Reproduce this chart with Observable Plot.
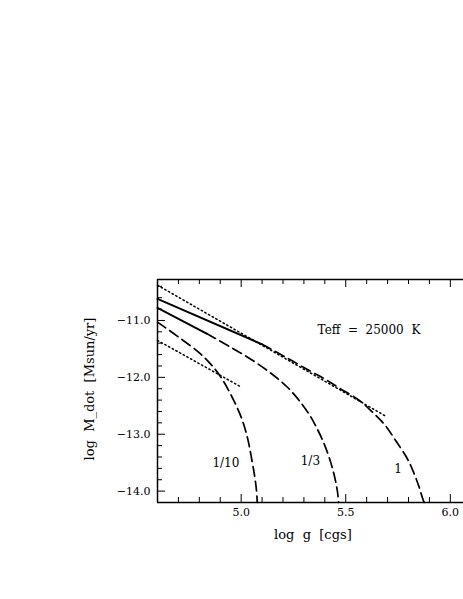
<!DOCTYPE html>
<html><head><meta charset="utf-8">
<script src="https://cdn.jsdelivr.net/npm/d3@7"></script>
<script src="https://cdn.jsdelivr.net/npm/@observablehq/plot@0.6"></script>
<style>body{margin:0;background:#fff;}</style>
</head><body><div id="chart"></div>
<script>
// log g (x) and log M_dot (y) values
const z1SolidG = [4.60, 5.10];
const z1SolidM = [-10.62, -11.42];
const z1DashG = [5.10, 5.22, 5.33, 5.40, 5.47, 5.57, 5.63, 5.69, 5.74, 5.79, 5.82, 5.85, 5.867, 5.875];
const z1DashM = [-11.42, -11.66, -11.89, -12.03, -12.19, -12.42, -12.62, -12.85, -13.12, -13.40, -13.63, -13.92, -14.12, -14.20];

const z3SolidG = [4.60, 4.835];
const z3SolidM = [-10.78, -11.23];
const z3DashG = [4.835, 4.95, 5.05, 5.15, 5.22, 5.28, 5.33, 5.36, 5.39, 5.42, 5.445, 5.46, 5.466];
const z3DashM = [-11.23, -11.47, -11.69, -11.95, -12.17, -12.42, -12.68, -12.88, -13.11, -13.40, -13.72, -14.00, -14.20];

const z10DashG = [4.60, 4.70, 4.80, 4.85, 4.90, 4.95, 5.00, 5.03, 5.05, 5.065, 5.073, 5.077];
const z10DashM = [-11.03, -11.29, -11.57, -11.75, -11.98, -12.30, -12.70, -13.06, -13.43, -13.75, -13.98, -14.20];

const dotUpperG = [4.60, 5.69];
const dotUpperM = [-10.38, -12.68];
const dotLowerG = [4.60, 5.00];
const dotLowerM = [-11.35, -12.17];

const curveLabels = ["1/10", "1/3", "1"];
const curveLabelG = [4.927, 5.331, 5.75];
const curveLabelM = [-13.51, -13.47, -13.61];

const xMajor = [5.0, 5.5, 6.0];
const xMinor = [4.7, 4.8, 4.9, 5.1, 5.2, 5.3, 5.4, 5.6, 5.7, 5.8, 5.9];
const yMajor = [-11, -12, -13, -14];
const yMinor = [-10.4, -10.6, -10.8, -11.2, -11.4, -11.6, -11.8, -12.2, -12.4, -12.6, -12.8, -13.2, -13.4, -13.6, -13.8];

const xDomain = [4.6, 6.063];
const yDomain = [-14.2, -10.28];
const W = 463, H = 599;
const mL = 157, mR = 0, mT = 279, mB = 97;

const pts = (g, m) => g.map((v, i) => ({g: v, m: m[i]}));
const font = "DejaVu Serif";

// pixel-per-unit to express tick lengths
const pxX = (W - mL - mR) / (xDomain[1] - xDomain[0]);
const pxY = (H - mT - mB) / (yDomain[1] - yDomain[0]);
const tx = (len) => len / pxX;
const ty = (len) => len / pxY;

const fmt = d3.format(".1f");

const plot = Plot.plot({
  width: W, height: H,
  marginLeft: mL, marginRight: mR, marginTop: mT, marginBottom: mB,
  style: {fontFamily: font, background: "#fff"},
  x: {domain: xDomain, axis: null},
  y: {domain: yDomain, axis: null},
  marks: [
    // frame: left, top, bottom
    Plot.ruleX([xDomain[0]], {stroke: "#000", strokeWidth: 1.5}),
    Plot.ruleY([yDomain[0], yDomain[1]], {stroke: "#000", strokeWidth: 1.5}),
    // bottom ticks
    Plot.ruleX(xMajor, {x: d => d, y1: yDomain[0], y2: yDomain[0] + ty(8), stroke: "#000", strokeWidth: 1}),
    Plot.ruleX(xMinor, {x: d => d, y1: yDomain[0], y2: yDomain[0] + ty(5), stroke: "#000", strokeWidth: 1}),
    // top ticks
    Plot.ruleX(xMajor, {x: d => d, y1: yDomain[1], y2: yDomain[1] - ty(8), stroke: "#000", strokeWidth: 1}),
    Plot.ruleX(xMinor, {x: d => d, y1: yDomain[1], y2: yDomain[1] - ty(5), stroke: "#000", strokeWidth: 1}),
    // left ticks
    Plot.ruleY(yMajor, {y: d => d, x1: xDomain[0], x2: xDomain[0] + tx(8), stroke: "#000", strokeWidth: 1}),
    Plot.ruleY(yMinor, {y: d => d, x1: xDomain[0], x2: xDomain[0] + tx(5), stroke: "#000", strokeWidth: 1}),
    // tick labels
    Plot.text(xMajor, {x: d => d, frameAnchor: "bottom", text: d => fmt(d), lineAnchor: "top", dy: 6, fontSize: 11, fill: "#000"}),
    Plot.text(yMajor, {y: d => d, frameAnchor: "left", text: d => fmt(d), textAnchor: "end", dx: -7, fontSize: 11, fill: "#000"}),
    // axis labels
    Plot.text(["log\u00a0\u00a0g\u00a0\u00a0[cgs]"], {x: 5.343, frameAnchor: "bottom", textAnchor: "middle", dy: 36, fontSize: 13, fill: "#000"}),
    Plot.text(["log\u00a0\u00a0M_dot\u00a0\u00a0[Msun/yr]"], {frameAnchor: "left", textAnchor: "middle", rotate: -90, dx: -68, dy: -2, fontSize: 13, fill: "#000", letterSpacing: "1px"}),
    // dotted reference lines
    Plot.line(pts(dotUpperG, dotUpperM), {x: "g", y: "m", stroke: "#000", strokeWidth: 1.5, strokeDasharray: "1.4,2.8"}),
    Plot.line(pts(dotLowerG, dotLowerM), {x: "g", y: "m", stroke: "#000", strokeWidth: 1.5, strokeDasharray: "1.4,2.8"}),
    // solid segments
    Plot.line(pts(z1SolidG, z1SolidM), {x: "g", y: "m", stroke: "#000", strokeWidth: 2}),
    Plot.line(pts(z3SolidG, z3SolidM), {x: "g", y: "m", stroke: "#000", strokeWidth: 2}),
    // dashed curves
    Plot.line(pts(z1DashG, z1DashM), {x: "g", y: "m", stroke: "#000", strokeWidth: 1.7, strokeDasharray: "10,5", curve: "catmull-rom"}),
    Plot.line(pts(z3DashG, z3DashM), {x: "g", y: "m", stroke: "#000", strokeWidth: 1.7, strokeDasharray: "10,5", curve: "catmull-rom"}),
    Plot.line(pts(z10DashG, z10DashM), {x: "g", y: "m", stroke: "#000", strokeWidth: 1.7, strokeDasharray: "10,5", curve: "catmull-rom"}),
    // curve labels
    Plot.text(curveLabels, {x: (d, i) => curveLabelG[i], y: (d, i) => curveLabelM[i], text: d => d, fontSize: 12, fill: "#000"}),
    Plot.text(["Teff\u00a0\u00a0=\u00a0\u00a025000\u00a0\u00a0K"], {x: 5.611, y: -11.176, fontSize: 12, fill: "#000"})
  ]
});
document.getElementById("chart").appendChild(plot);
</script>
</body></html>
